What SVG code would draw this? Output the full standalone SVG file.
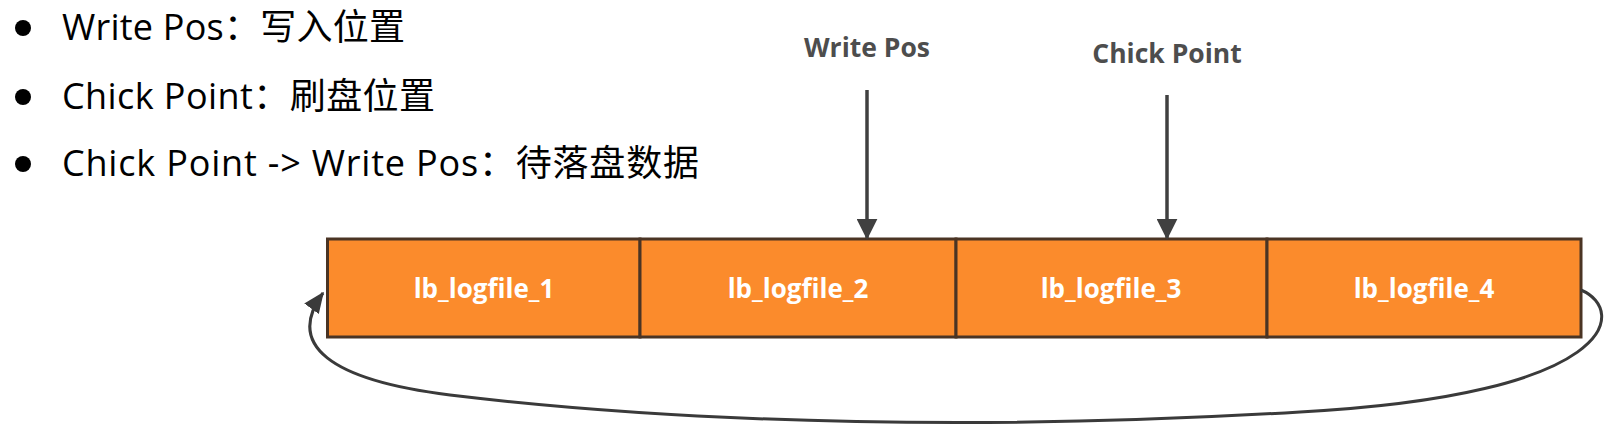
<svg xmlns="http://www.w3.org/2000/svg" width="1615" height="436" viewBox="0 0 1615 436">
<style>
.bul{font-family:"Open Sans","Noto Sans CJK SC",sans-serif;font-size:36px;fill:#000}
.lbl{font-family:"Open Sans","Noto Sans CJK SC",sans-serif;font-size:26.5px;font-weight:bold;fill:#4d4d4d;text-anchor:middle}
.box{fill:#FB8B2C;stroke:#4a3424;stroke-width:3}
.bt{font-family:"Open Sans","Liberation Sans",sans-serif;font-size:26px;font-weight:bold;fill:#fff;text-anchor:middle}
.ln{stroke:#404040;stroke-width:3.5;fill:none}
.lp{stroke:#3a3a3a;stroke-width:3;fill:none}
</style>
<defs>
<marker id="ah" markerWidth="6" markerHeight="6" refX="5.5" refY="3" orient="auto" markerUnits="strokeWidth" viewBox="0 0 6 6">
<path d="M0,0 L6,3 L0,6 z" fill="#404040"/>
</marker>
<marker id="ah2" markerWidth="7" markerHeight="6" refX="6.5" refY="3" orient="auto" markerUnits="strokeWidth" viewBox="0 0 7 6">
<path d="M0,0 L7,3 L0,6 z" fill="#3a3a3a"/>
</marker>
</defs>
<g id="bullets">
<circle cx="23" cy="28" r="8" fill="#000"/>
<text class="bul" x="62" y="40" textLength="343" lengthAdjust="spacing">Write Pos：写入位置</text>
<circle cx="23" cy="97" r="8" fill="#000"/>
<text class="bul" x="62" y="109" textLength="373" lengthAdjust="spacing">Chick Point：刷盘位置</text>
<circle cx="23" cy="164" r="8" fill="#000"/>
<text class="bul" x="62" y="176" textLength="637" lengthAdjust="spacing">Chick Point -&gt; Write Pos：待落盘数据</text>
</g>
<g id="label-writepos"><text class="lbl" x="867" y="57">Write Pos</text></g>
<g id="label-chickpoint"><text class="lbl" x="1167" y="63">Chick Point</text></g>
<g id="lb_logfile_1"><rect class="box" x="327.5" y="239" width="312.5" height="98"/><text class="bt" x="484" y="298">lb_logfile_1</text></g>
<g id="lb_logfile_2"><rect class="box" x="640" y="239" width="316" height="98"/><text class="bt" x="798" y="298">lb_logfile_2</text></g>
<g id="lb_logfile_3"><rect class="box" x="956" y="239" width="311" height="98"/><text class="bt" x="1111" y="298">lb_logfile_3</text></g>
<g id="lb_logfile_4"><rect class="box" x="1267" y="239" width="314" height="98"/><text class="bt" x="1424" y="298">lb_logfile_4</text></g>
<g id="connectors">
<line class="ln" x1="867" y1="90" x2="867" y2="238" marker-end="url(#ah)"/>
<line class="ln" x1="1167" y1="95" x2="1167" y2="238" marker-end="url(#ah)"/>
<path class="lp" d="M1581,290 C1628,310 1618,395 1300,412 C1000,430 700,425 450,395 C330,380 285,345 323,293" marker-end="url(#ah2)"/>
</g>
</svg>
